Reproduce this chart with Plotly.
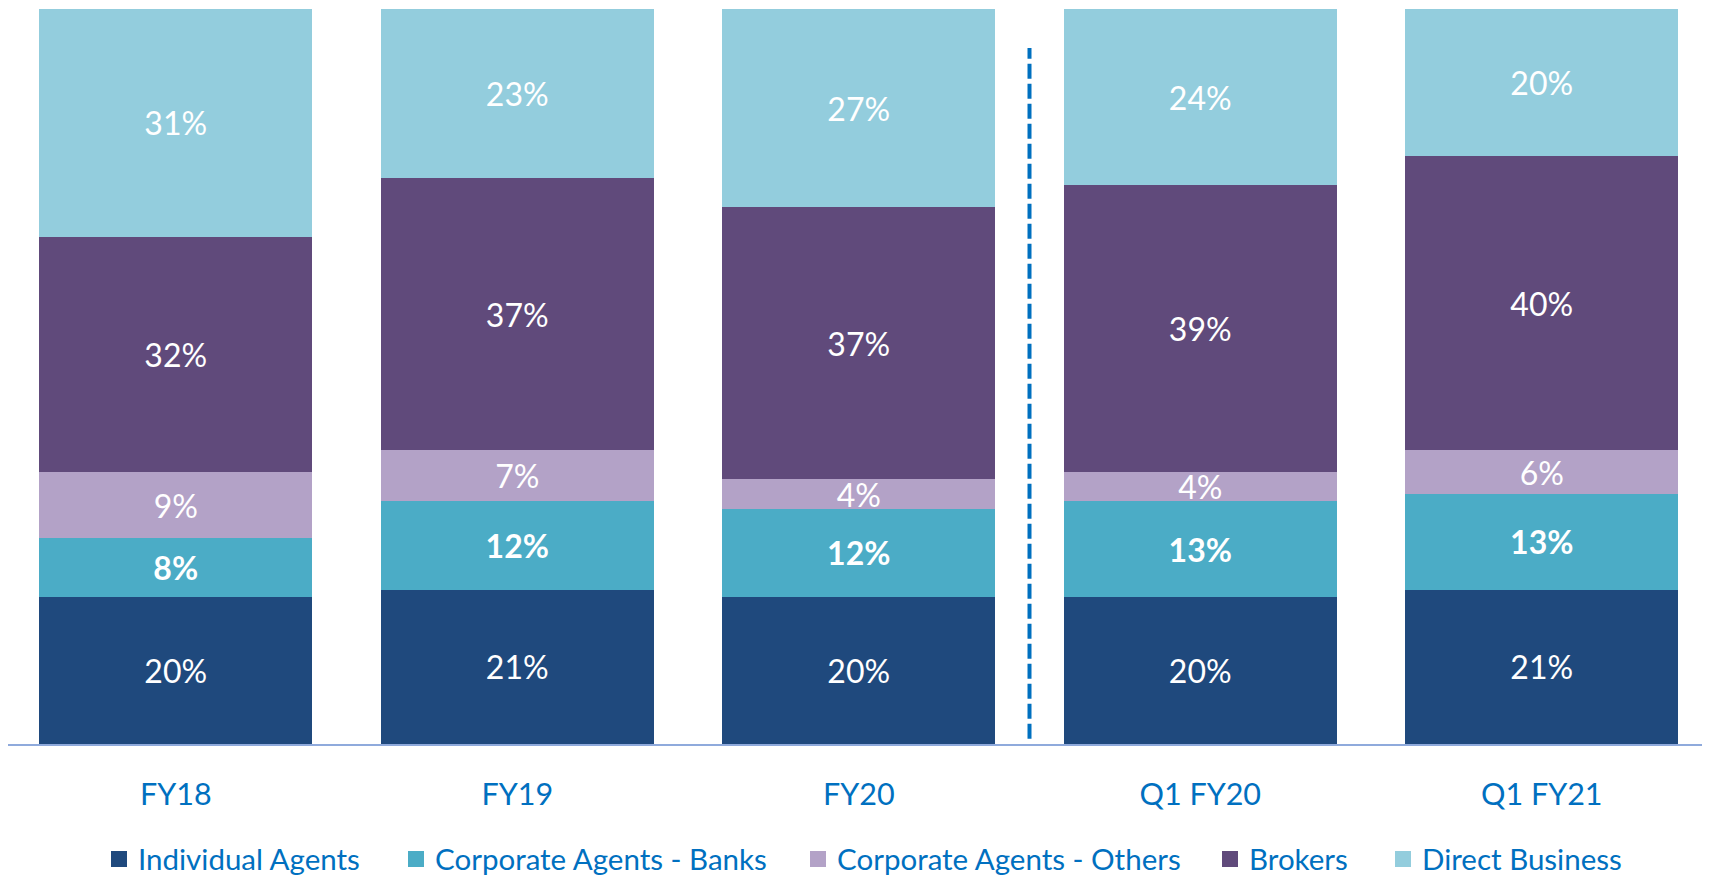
import plotly.graph_objects as go

categories = ["FY18", "FY19", "FY20", "Q1 FY20", "Q1 FY21"]
series_names = ["Individual Agents", "Corporate Agents - Banks", "Corporate Agents - Others", "Brokers", "Direct Business"]
individual_agents = [20, 21, 20, 20, 21]
corporate_banks = [8, 12, 12, 13, 13]
corporate_others = [9, 7, 4, 4, 6]
brokers = [32, 37, 37, 39, 40]
direct_business = [31, 23, 27, 24, 20]

series_values = [individual_agents, corporate_banks, corporate_others, brokers, direct_business]
colors = ["#1F497D", "#4BACC6", "#B3A2C7", "#604A7B", "#93CDDD"]
bold = [False, True, False, False, False]

FONT = "Lato"
OFF = 8  # page body margin offset
W, H = 1710 - OFF, 879 - OFF
ML, MR, MT, MB = 0, 0, 9 - OFF, 135
PW = W - ML - MR
PH = H - MT - MB
CAT_W = 341.5
x_lo = -0.5 + (OFF - 5) / CAT_W
x_hi = x_lo + PW / CAT_W

fig = go.Figure()
for name, vals, col, b in zip(series_names, series_values, colors, bold):
    fig.add_trace(go.Bar(
        x=categories, y=vals, name=name,
        marker=dict(color=col, line=dict(width=0)),
        text=[f"{v}%" for v in vals],
        textposition="inside", insidetextanchor="middle", textangle=0,
        constraintext="none",
        textfont=dict(family=FONT, size=32, color="white", weight=700 if b else 400),
        hoverinfo="skip", showlegend=False,
    ))

# dashed separator between annual and quarterly figures
fig.add_shape(type="line", xref="x", yref="y", x0=2.5, x1=2.5, y0=0.7, y1=94.7,
              line=dict(color="#0070C0", width=4, dash="15px,5px"))

# legend (positions given in reference-page pixels)
def px_x(px):
    return (px - OFF - ML) / PW

def px_y(py):
    return (MT + PH - (py - OFF)) / PH

legend_left = [111, 408, 810, 1222, 1395]
for name, col, lx in zip(series_names, colors, legend_left):
    fig.add_shape(type="rect", xref="paper", yref="paper",
                  x0=px_x(lx), x1=px_x(lx + 16), y0=px_y(867), y1=px_y(851),
                  fillcolor=col, line=dict(width=0))
    fig.add_annotation(xref="paper", yref="paper", x=px_x(lx + 25), y=px_y(858),
                       xanchor="left", yanchor="middle", text=name, showarrow=False,
                       font=dict(family=FONT, size=29.5, color="#0070C0"))

fig.update_layout(
    width=W, height=H,
    margin=dict(l=ML, r=MR, t=MT, b=MB),
    barmode="stack", bargap=0.2,
    plot_bgcolor="white", paper_bgcolor="white",
    showlegend=False,
    xaxis=dict(range=[x_lo, x_hi], showline=True, linecolor="#8FAADC", linewidth=2,
               showgrid=False, zeroline=False, ticks="",
               tickfont=dict(family=FONT, size=30.5, color="#0070C0"),
               ticklabelstandoff=22),
    yaxis=dict(range=[0, 100], visible=False),
)

fig.write_html("out.html")
